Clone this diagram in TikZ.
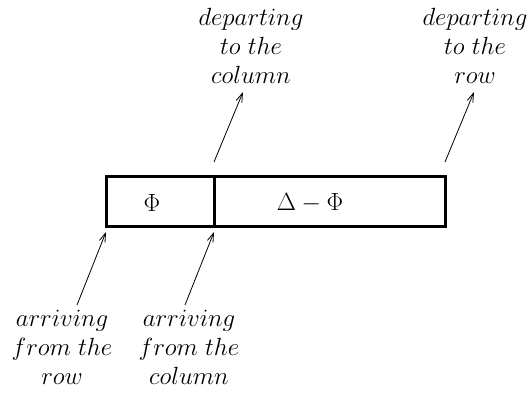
\documentclass[tikz,border=0pt]{standalone}
\usetikzlibrary{arrows.meta}
\begin{document}
\begin{tikzpicture}[x=1pt,y=-1pt,
  cell/.style={draw, line width=3pt, minimum height=50pt, inner sep=0pt, outer sep=0pt},
  lbl/.style={font=\fontsize{24}{29}\selectfont, align=center, inner sep=0pt},
  mth/.style={font=\fontsize{24}{29}\selectfont, inner sep=0pt},
  arr/.style={-{Straight Barb[length=9pt,width=6pt]}, line width=0.8pt}]
\useasboundingbox (0,0) rectangle (532,393);
% the two cells of the box
\node[cell, minimum width=107.8pt] (c1) at (160.4,201.5) {};
\node[cell, minimum width=230.7pt] (c2) at (329.65,201.5) {};
\node[mth] (phi) at (152,203) {$\Phi$};
\node[mth] (dphi) at (310,203) {$\Delta-\Phi$};
% labels
\node[lbl] (depcol) at (251,46) {$departing$\\$to\ the$\\$column$};
\node[lbl] (deprow) at (475,46) {$departing$\\$to\ the$\\$row$};
\node[lbl] (arrrow) at (62,347) {$arriving$\\$from\ the$\\$row$};
\node[lbl] (arrcol) at (189,347) {$arriving$\\$from\ the$\\$column$};
% arrow ends
\coordinate (t1) at (214,162);
\coordinate (h1) at (243,92);
\coordinate (t2) at (445,162);
\coordinate (h2) at (474,92);
\coordinate (t3) at (77,305);
\coordinate (h3) at (106,232);
\coordinate (t4) at (185,305);
\coordinate (h4) at (214,232);
\draw[arr] (t1) -- (h1);
\draw[arr] (t2) -- (h2);
\draw[arr] (t3) -- (h3);
\draw[arr] (t4) -- (h4);
\end{tikzpicture}
\end{document}
